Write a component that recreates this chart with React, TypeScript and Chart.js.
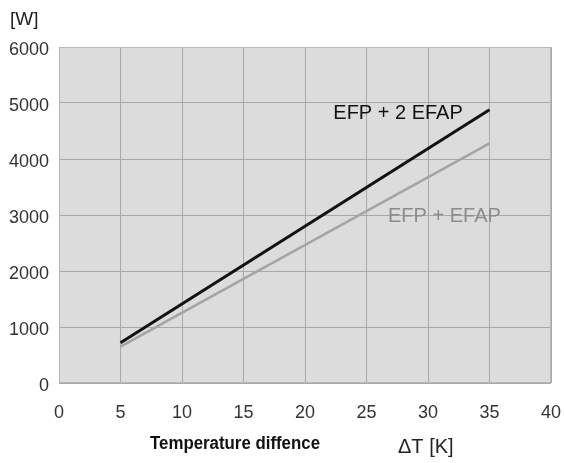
import React, { useEffect, useRef } from "react";
import { Chart, registerables } from "chart.js";

Chart.register(...registerables);

const xTicks = [0, 5, 10, 15, 20, 25, 30, 35, 40];
const yTicks = [0, 1000, 2000, 3000, 4000, 5000, 6000];
const deltaT = [5, 35];
const efpPlus2Efap = [720, 4880];
const efpPlusEfap = [650, 4280];
const seriesNames = ["EFP + 2 EFAP", "EFP + EFAP"];
const yUnit = "[W]";
const xTitleLeft = "Temperature diffence";
const xTitleRight = "ΔT [K]";

const W = 564;
const H = 463;

const decorPlugin = {
  id: "decor",
  beforeDraw(chart: any) {
    const { ctx, chartArea: a } = chart;
    ctx.save();
    ctx.fillStyle = "#dcdcdc";
    ctx.fillRect(a.left, a.top, a.right - a.left, a.bottom - a.top);
    ctx.restore();
  },
  afterDraw(chart: any) {
    const { ctx, chartArea: a } = chart;
    const xs = chart.scales.x;
    const ys = chart.scales.y;
    ctx.save();
    ctx.strokeStyle = "#b8b8b8";
    ctx.lineWidth = 1;
    ctx.strokeRect(a.left + 0.5, a.top + 0.5, a.right - a.left - 1, a.bottom - a.top - 1);

    // y tick labels (slightly below their grid lines, as in the reference)
    ctx.fillStyle = "#333333";
    ctx.font = "18px 'Liberation Sans', Arial, sans-serif";
    ctx.textAlign = "right";
    ctx.textBaseline = "middle";
    ys.ticks.forEach((t: any) => {
      ctx.fillText(String(t.value), 49, ys.getPixelForValue(t.value) + 3);
    });

    ctx.textBaseline = "alphabetic";
    ctx.textAlign = "left";
    ctx.font = "20px 'Liberation Sans', Arial, sans-serif";
    ctx.fillStyle = "#111111";
    ctx.fillText(seriesNames[0], xs.getPixelForValue(22.3), ys.getPixelForValue(4714));
    ctx.fillStyle = "#8c8c8c";
    ctx.fillText(seriesNames[1], xs.getPixelForValue(26.75), ys.getPixelForValue(2875));

    ctx.fillStyle = "#222222";
    ctx.font = "19px 'Liberation Sans', Arial, sans-serif";
    ctx.fillText(yUnit, 10, 25);

    ctx.font = "20px 'Liberation Sans', Arial, sans-serif";
    ctx.fillText(xTitleRight, 398, 453);

    ctx.fillStyle = "#111111";
    ctx.font = "bold 18px 'Liberation Sans', Arial, sans-serif";
    const tw = ctx.measureText(xTitleLeft).width;
    const targetW = 170;
    ctx.translate(150, 449);
    ctx.scale(targetW / tw, 1);
    ctx.fillText(xTitleLeft, 0, 0);
    ctx.restore();
  },
};

export default function App() {
  const ref = useRef<HTMLCanvasElement | null>(null);

  useEffect(() => {
    document.body.style.margin = "0";
    if (!ref.current) return;
    const chart = new Chart(ref.current, {
      type: "line",
      data: {
        datasets: [
          {
            label: seriesNames[0],
            data: deltaT.map((x, i) => ({ x, y: efpPlus2Efap[i] })),
            borderColor: "#111111",
            borderWidth: 3,
            pointRadius: 0,
            fill: false,
          },
          {
            label: seriesNames[1],
            data: deltaT.map((x, i) => ({ x, y: efpPlusEfap[i] })),
            borderColor: "#a4a4a4",
            borderWidth: 2.5,
            pointRadius: 0,
            fill: false,
          },
        ],
      },
      options: {
        responsive: false,
        animation: false,
        layout: { padding: { left: 0, top: 47, right: 13, bottom: 0 } },
        plugins: { legend: { display: false }, tooltip: { enabled: false } },
        scales: {
          x: {
            type: "linear",
            min: xTicks[0],
            max: xTicks[xTicks.length - 1],
            afterBuildTicks: (s: any) => {
              s.ticks = xTicks.map((v) => ({ value: v }));
            },
            afterFit: (s: any) => {
              s.height = 80;
              s.paddingLeft = 0;
              s.paddingRight = 0;
            },
            grid: { color: "#a9a9a9", lineWidth: 1, drawTicks: false },
            border: { display: false },
            ticks: {
              color: "#333333",
              padding: 19,
              callback: (v: any) => String(v),
              font: { family: "'Liberation Sans', Arial, sans-serif", size: 18 },
            },
          },
          y: {
            type: "linear",
            min: yTicks[0],
            max: yTicks[yTicks.length - 1],
            afterBuildTicks: (s: any) => {
              s.ticks = yTicks.map((v) => ({ value: v }));
            },
            afterFit: (s: any) => {
              s.width = 59;
              s.paddingTop = 0;
              s.paddingBottom = 0;
            },
            grid: { color: "#a9a9a9", lineWidth: 1, drawTicks: false },
            border: { display: false },
            ticks: { display: false },
          },
        },
      },
      plugins: [decorPlugin],
    } as any);
    return () => chart.destroy();
  }, []);

  return <canvas ref={ref} width={W} height={H} style={{ display: "block" }} />;
}
